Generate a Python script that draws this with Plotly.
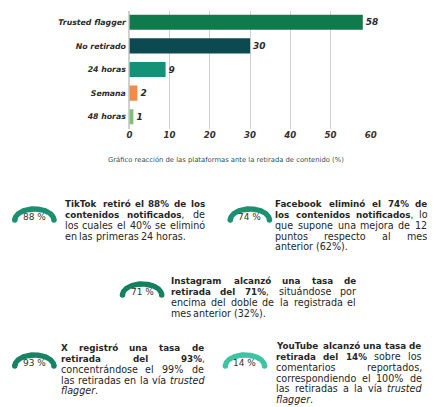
import re
import numpy as np
import plotly.graph_objects as go

# bar chart data
categories = ["Trusted flagger", "No retirado", "24 horas", "Semana", "48 horas"]
values = [58, 30, 9, 2, 1]
x_ticks = [0, 10, 20, 30, 40, 50, 60]
caption = "Gráfico reacción de las plataformas ante la retirada de contenido (%)"

# gauges: value shown inside each half ring + text lines beside it
gauge_values = [88, 74, 71, 93, 14]
gauge_lines = [
    ["<b>TikTok retiró el 88% de los</b>",
     "<b>contenidos notificados</b>, de",
     "los cuales el 40% se eliminó",
     "en las primeras 24 horas."],
    ["<b>Facebook eliminó el 74% de</b>",
     "<b>los contenidos notificados</b>, lo",
     "que supone una mejora de 12",
     "puntos respecto al mes",
     "anterior (62%)."],
    ["<b>Instagram alcanzó una tasa de</b>",
     "<b>retirada del 71%</b>, situándose por",
     "encima del doble de la registrada el",
     "mes anterior (32%)."],
    ["<b>X registró una tasa de</b>",
     "<b>retirada del 93%</b>,",
     "concentrándose el 99% de",
     "las retiradas en la vía <i>trusted</i>",
     "<i>flagger</i>."],
    ["<b>YouTube alcanzó una tasa de</b>",
     "<b>retirada del 14%</b> sobre los",
     "comentarios reportados,",
     "correspondiendo el 100% de",
     "las retiradas a la vía <i>trusted</i>",
     "<i>flagger</i>."],
]

W, H = 441, 407
bar_colors = ["#0f7a4c", "#0b4a50", "#149278", "#f08c48", "#7cc274"]
ring_colors = ["#1a9070", "#1a9272", "#15805e", "#168462", "#3dc4a2"]
# gauge centre (px), text block left x, right x, first line y
gauge_pos = [
    (32, 220, 62, 205, 204),
    (252, 220, 277, 432, 204),
    (142, 295, 170, 359, 281),
    (32, 366, 58, 204, 348),
    (247, 366, 278, 426, 346),
]
line_step = 10.7
body_font = "DejaVu Sans"
body_size = 9.6
bold_size = 8.75

# approximate DejaVu Sans advance widths (em) for justifying the text blocks
REG = dict(a=.613, b=.635, c=.550, d=.635, e=.615, f=.352, g=.635, h=.634, i=.278,
           j=.278, k=.579, l=.278, m=.974, n=.634, o=.612, p=.635, q=.635, r=.411,
           s=.521, t=.392, u=.634, v=.592, w=.818, x=.592, y=.592, z=.525)
BOLD = dict(a=.675, b=.716, c=.593, d=.716, e=.678, f=.435, g=.716, h=.712, i=.343,
            j=.343, k=.665, l=.343, m=1.042, n=.712, o=.687, p=.716, q=.716, r=.493,
            s=.595, t=.478, u=.712, v=.652, w=.924, x=.645, y=.652, z=.582)
ACC = str.maketrans("áéíóúñ", "aeioun")


def char_w(ch, bold):
    ch = ch.translate(ACC)
    if ch in REG:
        return BOLD[ch] if bold else REG[ch]
    if ch.isdigit():
        return .696 if bold else .636
    if ch == "%":
        return 1.002 if bold else .950
    if ch in ",.":
        return .380 if bold else .318
    if ch in "()":
        return .457 if bold else .390
    if ch.isupper():
        return .74 if bold else .66
    return .6


def split_words(line):
    # -> list of words, each word a list of (text, bold, italic) pieces
    words, cur = [], []
    bold = ital = False
    for part in re.split(r"(</?[bi]>)", line):
        if part in ("<b>", "</b>"):
            bold = part == "<b>"
            continue
        if part in ("<i>", "</i>"):
            ital = part == "<i>"
            continue
        chunks = part.split(" ")
        for n, chunk in enumerate(chunks):
            if n > 0 and cur:
                words.append(cur)
                cur = []
            if chunk:
                cur.append((chunk, bold, ital))
    if cur:
        words.append(cur)
    return words


def word_markup(word):
    out = ""
    for txt, b, i in word:
        if i:
            txt = f"<i>{txt}</i>"
        if b:
            txt = f"<b>{txt}</b>"
        out += txt
    return out


def word_size(word):
    return bold_size if any(b for _, b, _ in word) else body_size


def word_width(word):
    return sum(char_w(c, b) for txt, b, i in word for c in txt) * word_size(word)


fig = go.Figure()

fig.add_trace(go.Bar(
    x=values, y=categories, orientation="h",
    marker=dict(color=bar_colors, line=dict(width=0)),
    width=0.64,
    text=[f"<b><i>{v}</i></b>" for v in values],
    textposition="outside", cliponaxis=False,
    textfont=dict(size=9, color="#2b2b2b", family=body_font),
    xaxis="x", yaxis="y", showlegend=False,
))

annotations = []
for k, val in enumerate(gauge_values):
    cx, cy, x0, x1, ty = gauge_pos[k]
    rx, ry, t = 20, 11, 5.5
    th = np.linspace(0, np.pi, 60)
    ox = cx + (rx + t / 2) * np.cos(th)
    oy = cy - (ry + t / 2) * np.sin(th)
    ix = cx + (rx - t / 2) * np.cos(th[::-1])
    iy = cy - (ry - t / 2) * np.sin(th[::-1])
    fig.add_trace(go.Scatter(
        x=np.concatenate([ox, ix, ox[:1]]), y=np.concatenate([oy, iy, oy[:1]]),
        mode="lines", fill="toself", fillcolor=ring_colors[k],
        line=dict(width=0, color=ring_colors[k]),
        xaxis="x2", yaxis="y2", showlegend=False, hoverinfo="skip",
    ))
    fig.add_trace(go.Scatter(
        x=[cx - rx, cx + rx], y=[cy, cy], mode="markers",
        marker=dict(size=t, color=ring_colors[k]),
        xaxis="x2", yaxis="y2", showlegend=False, hoverinfo="skip",
    ))
    annotations.append(dict(
        x=cx, y=cy - 3, xref="x2", yref="y2", text=f"{val} %",
        showarrow=False, font=dict(size=9, color="#333333", family=body_font),
    ))
    lines = gauge_lines[k]
    for j, line in enumerate(lines):
        words = split_words(line)
        widths = [word_width(w) for w in words]
        space = 0.318 * body_size
        if j < len(lines) - 1 and len(words) > 1:
            space = max((x1 - x0 - sum(widths)) / (len(words) - 1), 2.6)
        x = x0
        for w, wd in zip(words, widths):
            annotations.append(dict(
                x=x, y=ty + j * line_step, xref="x2", yref="y2",
                text=word_markup(w), xanchor="left", yanchor="middle",
                showarrow=False, borderpad=0,
                font=dict(size=word_size(w), color="#262626", family=body_font),
            ))
            x += wd + space

annotations.append(dict(
    x=228, y=160, xref="x2", yref="y2", text=caption, showarrow=False,
    font=dict(size=6.8, color="#2f5050", family=body_font),
))

fig.update_layout(
    width=W, height=H,
    margin=dict(l=0, r=0, t=0, b=0),
    paper_bgcolor="white", plot_bgcolor="rgba(0,0,0,0)",
    xaxis=dict(
        domain=[129 / W, 375.5 / W], range=[0, 60],
        tickvals=x_ticks, ticktext=[f"<b><i>{v}</i></b>" for v in x_ticks],
        showgrid=True, gridcolor="#d0d0d0", gridwidth=1,
        zeroline=True, zerolinecolor="#d0d0d0",
        tickfont=dict(size=8.6, color="#333333", family=body_font),
        fixedrange=True, anchor="y",
    ),
    yaxis=dict(
        domain=[1 - 128.5 / H, 1 - 10.5 / H], autorange="reversed",
        categoryorder="array", categoryarray=categories,
        tickvals=categories,
        ticktext=[f"<b><i>{c}</i></b> " for c in categories],
        tickfont=dict(size=7.8, color="#2b2b2b", family=body_font),
        showgrid=False, anchor="x",
    ),
    xaxis2=dict(domain=[0, 1], range=[0, W], visible=False, anchor="y2"),
    yaxis2=dict(domain=[0, 1], range=[H, 0], visible=False, anchor="x2"),
    annotations=annotations,
)

fig.write_html("out.html", config={"displayModeBar": False},
               post_script="document.body.style.margin='0';")
